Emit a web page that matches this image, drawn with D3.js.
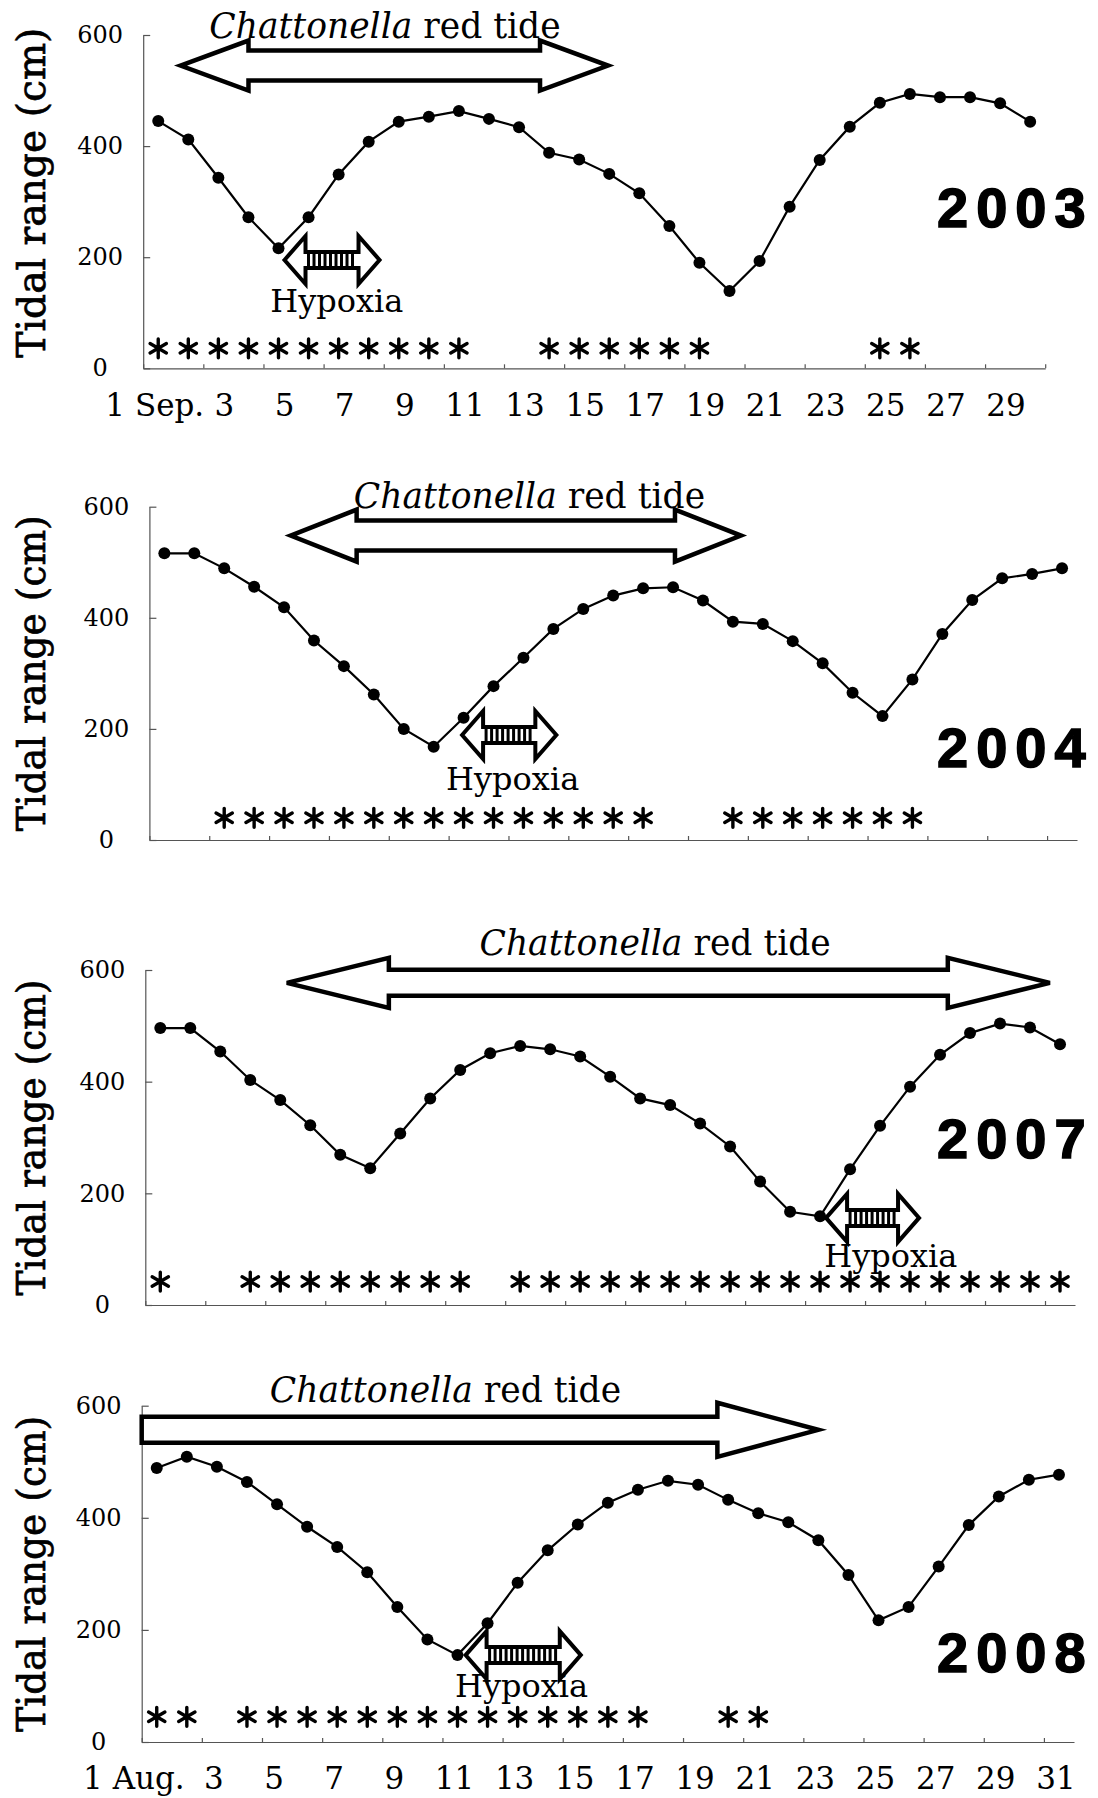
<!DOCTYPE html>
<html>
<head>
<meta charset="utf-8">
<script src="https://cdn.jsdelivr.net/npm/d3@7"></script>
<style>
  body { margin: 0; background: #fff; }
</style>
</head>
<body>
<svg id="chart" width="1098" height="1798"></svg>
<script>
// ---- data ----
const yTicks = [0, 200, 400, 600]
const xTickDays = [0.5, 2.5, 4.5, 6.5, 8.5, 10.5, 12.5, 14.5, 16.5, 18.5, 20.5, 22.5, 24.5, 26.5, 28.5, 30.5]

// daily tidal range (cm), day 1 onwards
const tide2003 = [445, 412, 343, 272, 216, 272, 349, 408, 444, 453, 463, 449, 434, 388, 376, 350, 315, 256, 190, 139, 193, 291, 375, 435, 478, 494, 488, 488, 477, 444]
const tide2004 = [516, 516, 489, 456, 419, 359, 313, 262, 200, 168, 220, 277, 328, 380, 416, 440, 453, 455, 431, 393, 389, 358, 318, 265, 223, 289, 371, 432, 471, 479, 489]
const tide2007 = [496, 496, 454, 403, 367, 322, 269, 245, 307, 370, 421, 451, 464, 458, 445, 409, 370, 358, 325, 284, 221, 167, 159, 243, 321, 391, 448, 487, 504, 497, 467]
const tide2008 = [489, 509, 491, 464, 424, 384, 348, 303, 241, 183, 155, 212, 284, 342, 388, 427, 450, 466, 459, 432, 408, 392, 360, 298, 217, 241, 313, 387, 438, 468, 477]

// days marked with an asterisk
const star2003 = [1, 2, 3, 4, 5, 6, 7, 8, 9, 10, 11, 14, 15, 16, 17, 18, 19, 25, 26]
const star2004 = [3, 4, 5, 6, 7, 8, 9, 10, 11, 12, 13, 14, 15, 16, 17, 20, 21, 22, 23, 24, 25, 26]
const star2007 = [1, 4, 5, 6, 7, 8, 9, 10, 11, 13, 14, 15, 16, 17, 18, 19, 20, 21, 22, 23, 24, 25, 26, 27, 28, 29, 30, 31]
const star2008 = [1, 2, 4, 5, 6, 7, 8, 9, 10, 11, 12, 13, 14, 15, 16, 17, 20, 21]

// Chattonella red tide period and hypoxia period (start day, end day)
const redTide2003 = [1.74, 15.96]
const redTide2004 = [5.22, 20.27]
const redTide2007 = [5.22, 30.66]
const redTide2008 = [0.5, 23.0]
const hypoxia2003 = [5.2, 8.36]
const hypoxia2004 = [10.95, 14.1]
const hypoxia2007 = [23.2, 26.3]
const hypoxia2008 = [11.27, 15.1]

// x tick labels (odd days)
const xLabels2003 = ["1 Sep.", "3", "5", "7", "9", "11", "13", "15", "17", "19", "21", "23", "25", "27", "29"]
const xLabels2008 = ["1 Aug.", "3", "5", "7", "9", "11", "13", "15", "17", "19", "21", "23", "25", "27", "29", "31"]

// ---- layout of the four stacked panels ----
const panels = [
    {
        year: "2003", tide: tide2003, stars: star2003, red: redTide2003, hyp: hypoxia2003,
        xDomain: [0.5, 30.5], xRange: [143.2, 1045.2], yRange: [368.3, 35],
        titleLength: 330, titleShift: -9,
        redLevel: 545, redLabelDay: 8.54, redShaft: 15, redHead: 25, redHeadLen: 68, single: false,
        hypLevel: 195, hypLabelDay: 6.94, hypLabelDy: 52,
        starLevel: 36, yearY: 227,
        xLabels: xLabels2003, xLabelShift: 6, firstLabelEnd: 46, xLabelY: 416
    },
    {
        year: "2004", tide: tide2004, stars: star2004, red: redTide2004, hyp: hypoxia2004,
        xDomain: [0.5, 31.5], xRange: [149.4, 1077], yRange: [840, 506.7],
        titleLength: 316, titleShift: 0,
        redLevel: 548, redLabelDay: 13.2, redShaft: 15, redHead: 26, redHeadLen: 66, single: false,
        hypLevel: 189, hypLabelDay: 12.64, hypLabelDy: 55,
        starLevel: 40, yearY: 767
    },
    {
        year: "2007", tide: tide2007, stars: star2007, red: redTide2007, hyp: hypoxia2007,
        xDomain: [0.5, 31.5], xRange: [145.3, 1075], yRange: [1305, 970],
        titleLength: 316, titleShift: 0,
        redLevel: 577, redLabelDay: 17.5, redShaft: 13, redHead: 25, redHeadLen: 102, single: false,
        hypLevel: 156, hypLabelDay: 25.36, hypLabelDy: 49,
        starLevel: 42, yearY: 1158
    },
    {
        year: "2008", tide: tide2008, stars: star2008, red: redTide2008, hyp: hypoxia2008,
        xDomain: [0.5, 31.5], xRange: [141.7, 1074], yRange: [1742, 1405.7],
        titleLength: 316, titleShift: 0,
        redLevel: 557, redLabelDay: 10.6, redShaft: 13, redHead: 27, redHeadLen: 101, single: true,
        hypLevel: 155, hypLabelDay: 13.13, hypLabelDy: 42,
        starLevel: 45, yearY: 1672,
        xLabels: xLabels2008, xLabelShift: -3, firstLabelEnd: 28, xLabelY: 1789
    }
]

const serif = "'DejaVu Serif', 'Liberation Serif', serif"
const svg = d3.select("#chart")

const polygon = pts => "M" + pts.map(p => p.join(",")).join("L") + "Z"

panels.forEach(p => {
    const x = d3.scaleLinear().domain(p.xDomain).range(p.xRange)
    const y = d3.scaleLinear().domain([0, 600]).range(p.yRange)
    const g = svg.append("g").attr("class", "panel-" + p.year)

    // y axis, ticks pointing inwards, labels centred
    const yAxis = g.append("g")
        .attr("transform", `translate(${p.xRange[0]},0)`)
        .call(d3.axisLeft(y).tickValues(yTicks).tickSizeInner(-7).tickSizeOuter(0))
    yAxis.select(".domain").attr("stroke", "#555").attr("stroke-width", 1.2)
    yAxis.selectAll(".tick line").attr("stroke", "#555").attr("stroke-width", 1.2)
    yAxis.selectAll(".tick text")
        .attr("x", -43)
        .attr("text-anchor", "middle")
        .attr("font-family", serif)
        .attr("font-size", 24)
        .attr("fill", "#000")

    // x axis, small upward ticks every two days
    const xAxis = g.append("g")
        .attr("transform", `translate(0,${p.yRange[0]})`)
        .call(d3.axisBottom(x).tickValues(xTickDays).tickSizeInner(-4).tickSizeOuter(0).tickFormat(""))
    xAxis.select(".domain").attr("stroke", "#555").attr("stroke-width", 1.2)
    xAxis.selectAll(".tick line").attr("stroke", "#555").attr("stroke-width", 1.2)

    // y title
    g.append("text")
        .attr("transform", `translate(45,${(y(0) + y(600)) / 2 + p.titleShift}) rotate(-90)`)
        .attr("text-anchor", "middle")
        .attr("font-family", serif)
        .attr("font-size", 40)
        .attr("stroke", "#000")
        .attr("stroke-width", 0.7)
        .attr("textLength", p.titleLength)
        .attr("lengthAdjust", "spacingAndGlyphs")
        .text("Tidal range (cm)")

    // x labels (top and bottom panels only)
    if (p.xLabels) {
        g.selectAll("text.xlab")
            .data(p.xLabels)
            .join("text")
            .attr("class", "xlab")
            .attr("x", (d, i) => i === 0 ? x(1) + p.firstLabelEnd : x(i * 2 + 1) + p.xLabelShift)
            .attr("y", p.xLabelY)
            .attr("text-anchor", (d, i) => i === 0 ? "end" : "middle")
            .attr("font-family", serif)
            .attr("font-size", 31)
            .text(d => d)
    }

    // red tide arrow
    const rx0 = x(p.red[0]), rx1 = x(p.red[1]), ry = y(p.redLevel)
    const s = p.redShaft, hH = p.redHead, hl = p.redHeadLen
    const redPts = p.single
        ? [[rx0, ry - s], [rx1 - hl, ry - s], [rx1 - hl, ry - hH], [rx1, ry], [rx1 - hl, ry + hH], [rx1 - hl, ry + s], [rx0, ry + s]]
        : [[rx0, ry], [rx0 + hl, ry - hH], [rx0 + hl, ry - s], [rx1 - hl, ry - s], [rx1 - hl, ry - hH],
           [rx1, ry], [rx1 - hl, ry + hH], [rx1 - hl, ry + s], [rx0 + hl, ry + s], [rx0 + hl, ry + hH]]
    g.append("path")
        .attr("d", polygon(redPts))
        .attr("fill", "#fff")
        .attr("stroke", "#000")
        .attr("stroke-width", 4.5)
        .attr("stroke-linejoin", "miter")

    const redLabel = g.append("text")
        .attr("x", x(p.redLabelDay))
        .attr("y", ry - 28)
        .attr("text-anchor", "middle")
        .attr("font-family", serif)
        .attr("font-size", 34.5)
    redLabel.append("tspan").attr("font-style", "italic").text("Chattonella")
    redLabel.append("tspan").text(" red tide")

    // tidal range line and points
    const pts = p.tide.map((v, i) => ({ day: i + 1, v }))
    g.append("path")
        .datum(pts)
        .attr("d", d3.line().x(d => x(d.day)).y(d => y(d.v)))
        .attr("fill", "none")
        .attr("stroke", "#000")
        .attr("stroke-width", 2.2)
    g.selectAll("circle.pt")
        .data(pts)
        .join("circle")
        .attr("class", "pt")
        .attr("cx", d => x(d.day))
        .attr("cy", d => y(d.v))
        .attr("r", 6)
        .attr("fill", "#000")

    // hypoxia arrow (hatched double arrow)
    const hx0 = x(p.hyp[0]), hx1 = x(p.hyp[1]), hy = y(p.hypLevel)
    const ahl = 21, ahH = 24, ahs = 8
    g.append("path")
        .attr("d", polygon([[hx0, hy], [hx0 + ahl, hy - ahH], [hx0 + ahl, hy - ahs], [hx1 - ahl, hy - ahs], [hx1 - ahl, hy - ahH],
            [hx1, hy], [hx1 - ahl, hy + ahH], [hx1 - ahl, hy + ahs], [hx0 + ahl, hy + ahs], [hx0 + ahl, hy + ahH]]))
        .attr("fill", "#fff")
        .attr("stroke", "#000")
        .attr("stroke-width", 4)
    g.selectAll("line.hatch")
        .data(d3.range(hx0 + ahl + 3, hx1 - ahl - 1, 5.5))
        .join("line")
        .attr("class", "hatch")
        .attr("x1", d => d).attr("x2", d => d)
        .attr("y1", hy - ahs).attr("y2", hy + ahs)
        .attr("stroke", "#000")
        .attr("stroke-width", 3)
    g.append("text")
        .attr("x", x(p.hypLabelDay))
        .attr("y", hy + p.hypLabelDy)
        .attr("text-anchor", "middle")
        .attr("font-family", serif)
        .attr("font-size", 32)
        .text("Hypoxia")

    // asterisk row
    const star = d3.symbol(d3.symbolAsterisk, 250)()
    g.selectAll("path.star")
        .data(p.stars)
        .join("path")
        .attr("class", "star")
        .attr("d", star)
        .attr("transform", d => `translate(${x(d)},${y(p.starLevel)})`)
        .attr("fill", "none")
        .attr("stroke", "#000")
        .attr("stroke-width", 3.4)
        .attr("stroke-linecap", "round")

    // year label
    g.append("text")
        .attr("x", 937)
        .attr("y", p.yearY)
        .attr("font-family", "'Liberation Sans', Arial, sans-serif")
        .attr("font-weight", "bold")
        .attr("font-size", 56)
        .attr("letter-spacing", 8)
        .attr("stroke", "#000")
        .attr("stroke-width", 1.5)
        .text(p.year)
})
</script>
</body>
</html>
